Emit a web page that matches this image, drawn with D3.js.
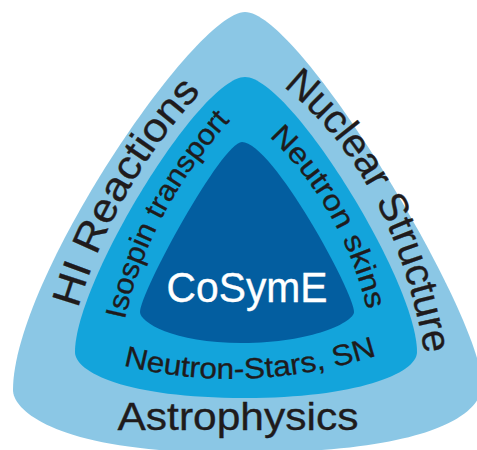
<!DOCTYPE html>
<html>
<head>
<meta charset="utf-8">
<script src="https://cdn.jsdelivr.net/npm/d3@7"></script>
<style>
  body { margin: 0; background: #fff; }
  svg { display: block; }
  .label { font-family: "Liberation Sans", Arial, sans-serif; fill: #1f1b1c; stroke: #1f1b1c; stroke-width: 0.35; }
</style>
</head>
<body>
<div id="chart"></div>
<script>
// Topics of each ring
// ==============================================================================
var outerTopics = ["HI Reactions", "Nuclear Structure", "Astrophysics"];
var middleTopics = ["Isospin transport", "Neutron skins", "Neutron-Stars, SN"];
var coreTopics = ["CoSymE"];

// Canvas
// ==============================================================================
var svgWidth = 477;
var svgHeight = 450;

var svg = d3.select("#chart")
  .append("svg")
  .attr("width", svgWidth)
  .attr("height", svgHeight);

// Ring outlines: top, left-most, bottom and right-most points of each rounded
// triangle, with the handle lengths of the four bezier segments between them
// ==============================================================================
var rings = [
  { fill: "#8bc7e5", top: [245, 12], left: [13, 390], bottom: [235, 453], right: [482, 385],
    tl: [50, 110], tr: [55, 70], lb: [20, 180], rb: [20, 220] },
  { fill: "#13a4db", top: [245, 77], left: [75, 352], bottom: [245, 398], right: [417, 352],
    tl: [45, 70], tr: [45, 70], lb: [20, 120], rb: [22, 110] },
  { fill: "#035ea0", top: [242, 142], left: [140, 312], bottom: [242, 343], right: [354, 312],
    tl: [20, 20], tr: [30, 20], lb: [10, 70], rb: [10, 70] }
];

function ringPath(s) {
  var p = d3.path();
  var T = s.top, L = s.left, B = s.bottom, R = s.right;
  p.moveTo(T[0], T[1]);
  p.bezierCurveTo(T[0] + s.tr[0], T[1], R[0], R[1] - s.tr[1], R[0], R[1]);
  p.bezierCurveTo(R[0], R[1] + s.rb[0], B[0] + s.rb[1], B[1], B[0], B[1]);
  p.bezierCurveTo(B[0] - s.lb[1], B[1], L[0], L[1] + s.lb[0], L[0], L[1]);
  p.bezierCurveTo(L[0], L[1] - s.tl[1], T[0] - s.tl[0], T[1], T[0], T[1]);
  p.closePath();
  return p.toString();
}

svg.selectAll("path.ring")
  .data(rings)
  .enter()
  .append("path")
  .attr("class", "ring")
  .attr("d", ringPath)
  .attr("fill", d => d.fill);

// Baselines for the curved labels (quadratic curves: start, control, end)
// ==============================================================================
var outerCurves = [
  [[74, 324], [108, 190], [212, 80]],
  [[272, 78], [397, 170], [427, 368]],
  null
];
var middleCurves = [
  [[122, 334], [145, 210], [240, 110]],
  [[260, 128], [345, 205], [370, 322]],
  [[118, 364], [245, 398], [382, 354]]
];

function curvePath(c) {
  var p = d3.path();
  p.moveTo(c[0][0], c[0][1]);
  p.quadraticCurveTo(c[1][0], c[1][1], c[2][0], c[2][1]);
  return p.toString();
}

var defs = svg.append("defs");

function curvedLabels(topics, curves, prefix, fontSize, lengths) {
  topics.forEach(function(t, i) {
    if (!curves[i]) return;
    defs.append("path")
      .attr("id", prefix + i)
      .attr("d", curvePath(curves[i]));
    svg.append("text")
      .attr("class", "label")
      .attr("font-size", fontSize)
      .append("textPath")
      .attr("href", "#" + prefix + i)
      .attr("startOffset", "50%")
      .attr("text-anchor", "middle")
      .attr("textLength", lengths[i])
      .attr("lengthAdjust", "spacingAndGlyphs")
      .text(t);
  });
}

curvedLabels(outerTopics, outerCurves, "outer", 40, [252, 310, 0]);
curvedLabels(middleTopics, middleCurves, "middle", 29, [228, 202, 257]);

// Straight labels
// ==============================================================================
svg.append("text")
  .attr("class", "label")
  .attr("x", 238)
  .attr("y", 430)
  .attr("font-size", 39)
  .attr("text-anchor", "middle")
  .attr("textLength", 241)
  .attr("lengthAdjust", "spacingAndGlyphs")
  .text(outerTopics[2]);

svg.append("text")
  .attr("class", "label")
  .attr("x", 247)
  .attr("y", 302)
  .attr("font-size", 42)
  .attr("text-anchor", "middle")
  .attr("textLength", 161)
  .attr("lengthAdjust", "spacingAndGlyphs")
  .style("fill", "#fff")
  .style("stroke", "#fff")
  .text(coreTopics[0]);
</script>
</body>
</html>
